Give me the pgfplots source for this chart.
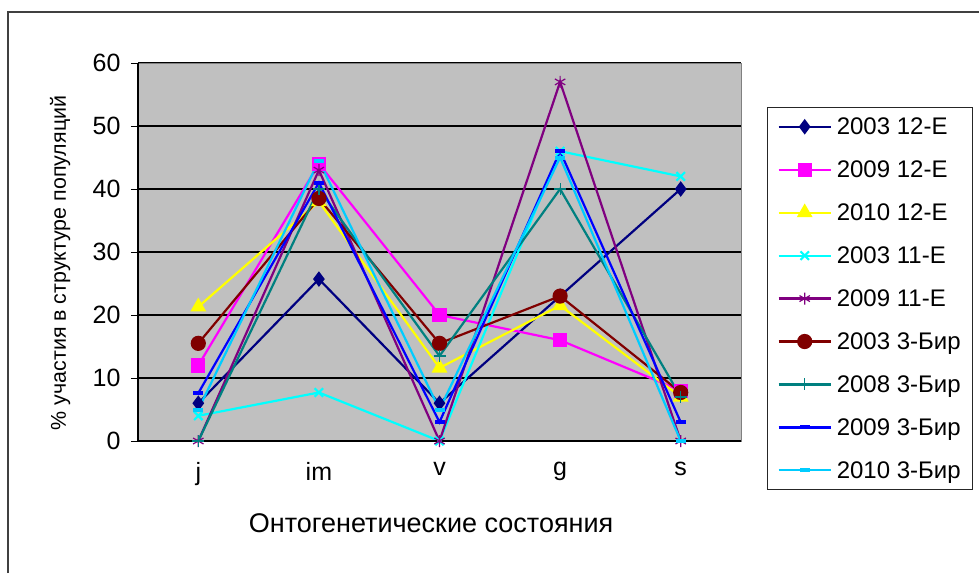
\documentclass[border=0pt]{standalone}
\usepackage{pgfplots}
\pgfplotsset{compat=1.18}
\usepackage{fontspec}
\setmainfont{Liberation Sans}

\definecolor{sNavy}{RGB}{0,0,128}
\definecolor{sMag}{RGB}{255,0,255}
\definecolor{sYel}{RGB}{255,255,0}
\definecolor{sCyan}{RGB}{0,255,255}
\definecolor{sPurp}{RGB}{128,0,128}
\definecolor{sRed}{RGB}{128,0,0}
\definecolor{sTeal}{RGB}{0,128,128}
\definecolor{sBlue}{RGB}{0,0,255}
\definecolor{sSky}{RGB}{0,204,255}
\definecolor{plotbg}{RGB}{192,192,192}

\begin{document}
\begin{tikzpicture}[x=1pt,y=1pt]
\useasboundingbox (0,0) rectangle (979,573);
\fill[white] (0,0) rectangle (979,573);
\draw[line width=1.5pt, black!75] (8,0) |- (979,561);

\begin{axis}[
  at={(138pt,132pt)}, anchor=south west,
  width=603pt, height=378pt, scale only axis,
  xmin=-0.5, xmax=4.5, ymin=0, ymax=60,
  axis background/.style={fill=plotbg},
  axis line style={draw=black!50, line width=1pt},
  xtick={0,1,2,3,4},
  xticklabels={j,im,v,g,s},
  major x tick style={draw=none},
  extra x ticks={-0.5,0.5,1.5,2.5,3.5,4.5},
  extra x tick labels={},
  extra x tick style={tick style={draw=black, line width=1pt}, major tick length=7pt, tick align=outside, grid=none},
  ytick={0,10,...,60},
  ymajorgrids,
  grid style={draw=black, line width=1.2pt},
  y tick style={draw=black, line width=1pt},
  major tick length=7pt,
  tick align=outside,
  tick pos=left,
  ticklabel style={font=\fontsize{25}{30}\selectfont},
  /pgf/number format/assume math mode=true,
  xticklabel style={yshift=-11pt},
  yticklabel style={xshift=-7pt},
  xlabel={Онтогенетические состояния},
  xlabel style={font=\fontsize{27}{32}\selectfont, at={(axis description cs:0.486,-0.217)}, anchor=center},
  ylabel={\% участия в структуре популяций},
  ylabel style={font=\fontsize{21.4}{25}\selectfont, at={(axis description cs:-0.129,0.471)}, anchor=center},
  legend style={at={(axis description cs:1.0431,0.8836)}, anchor=north west,
    draw=black!85, line width=1.2pt, fill=white, font=\fontsize{24}{28}\selectfont,
    inner xsep=10pt, inner ysep=8pt, row sep=20.7pt,
    legend cell align=left},
  legend image code/.code={\draw[mark repeat=2,mark phase=2,#1] plot coordinates {(0pt,0pt) (26pt,0pt) (52pt,0pt)}; \path (55pt,0pt);},
  every axis plot/.append style={line width=2.2pt},
  clip=false,
]
\addplot[sNavy, mark=diamond*, mark size=6pt, mark options={solid, fill=sNavy}] coordinates {(0,6) (1,25.7) (2,6) (3,23) (4,40)};
\addlegendentry{2003 12-E}
\addplot[sMag, mark=square*, mark size=6pt, mark options={fill=sMag}] coordinates {(0,12) (1,44) (2,20) (3,16) (4,8)};
\addlegendentry{2009 12-E}
\addplot[sYel, mark=triangle*, mark size=7pt, mark options={fill=sYel}] coordinates {(0,21.3) (1,38) (2,11.6) (3,21.5) (4,7)};
\addlegendentry{2010 12-E}
\addplot[sCyan, mark=x, mark size=6pt] coordinates {(0,4) (1,7.7) (2,0) (3,46) (4,42)};
\addlegendentry{2003 11-E}
\addplot[sPurp, mark=asterisk, mark size=6pt, mark options={line width=1.2pt}] coordinates {(0,0) (1,43) (2,0) (3,57) (4,0)};
\addlegendentry{2009 11-E}
\addplot[sRed, mark=*, mark size=6.5pt, mark options={fill=sRed}] coordinates {(0,15.5) (1,38.5) (2,15.5) (3,23) (4,7.7)};
\addlegendentry{2003 3-Бир}
\addplot[sTeal, mark=+, mark size=6pt, mark options={line width=1.2pt}] coordinates {(0,0) (1,40) (2,13.5) (3,40) (4,7)};
\addlegendentry{2008 3-Бир}
\addplot[sBlue, mark=-, mark size=5pt, mark options={line width=4pt}] coordinates {(0,7.6) (1,41) (2,3) (3,46) (4,3)};
\addlegendentry{2009 3-Бир}
\addplot[sSky, mark=-, mark size=5pt, mark options={line width=4pt}] coordinates {(0,5) (1,44.5) (2,5) (3,45) (4,0)};
\addlegendentry{2010 3-Бир}
\draw[black, line width=1.2pt] (axis cs:-0.5,60) -- (axis cs:-0.5,0) -- (axis cs:4.5,0);
\end{axis}
\end{tikzpicture}
\end{document}
